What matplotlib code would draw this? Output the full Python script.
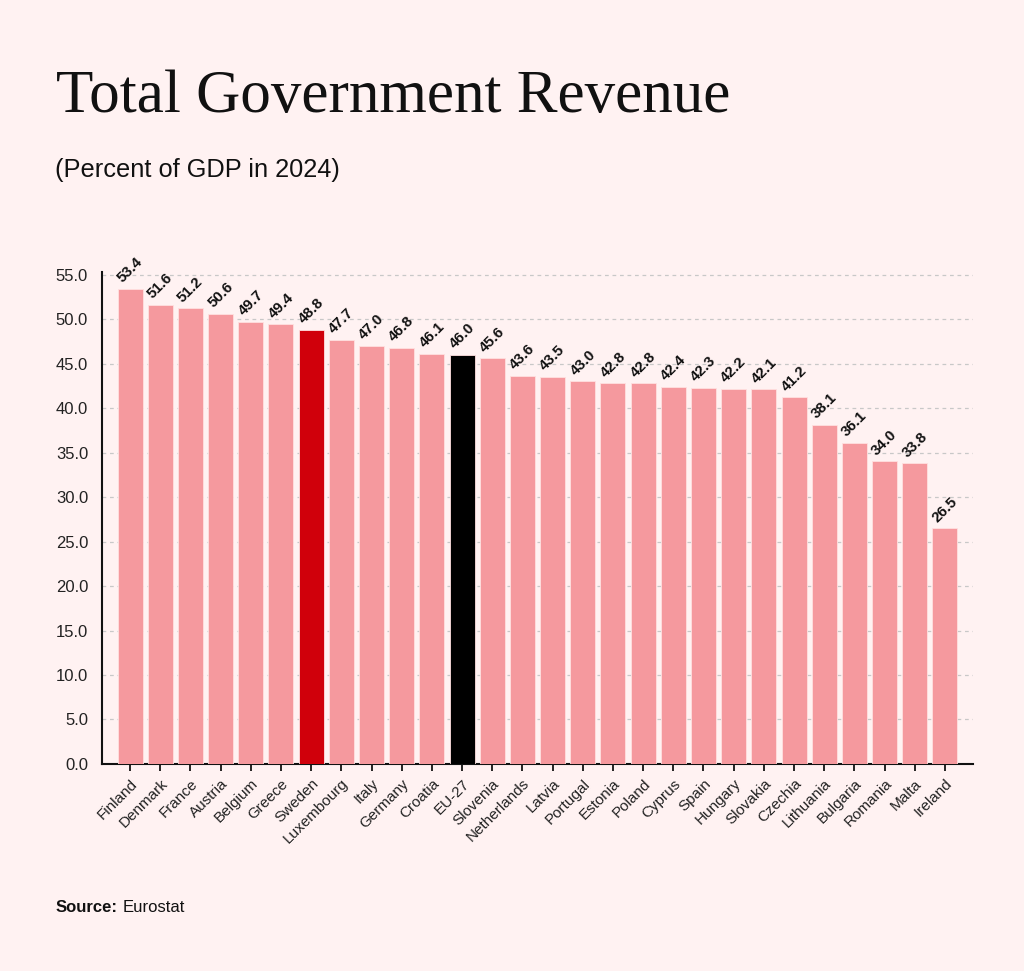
import matplotlib
matplotlib.use("Agg")
import matplotlib.pyplot as plt

# data
countries = ["Finland", "Denmark", "France", "Austria", "Belgium", "Greece", "Sweden",
             "Luxembourg", "Italy", "Germany", "Croatia", "EU-27", "Slovenia", "Netherlands",
             "Latvia", "Portugal", "Estonia", "Poland", "Cyprus", "Spain", "Hungary",
             "Slovakia", "Czechia", "Lithuania", "Bulgaria", "Romania", "Malta", "Ireland"]
revenue = [53.4, 51.6, 51.2, 50.6, 49.7, 49.4, 48.8, 47.7, 47.0, 46.8, 46.1, 46.0, 45.6, 43.6,
           43.5, 43.0, 42.8, 42.8, 42.4, 42.3, 42.2, 42.1, 41.2, 38.1, 36.1, 34.0, 33.8, 26.5]
yticks = [0, 5, 10, 15, 20, 25, 30, 35, 40, 45, 50, 55]

bg = "#fff2f2"
pink = "#f5999e"
highlight = {"Sweden": "#d0000b", "EU-27": "#000000"}

plt.rcParams["font.family"] = ["Liberation Sans", "DejaVu Sans"]

fig = plt.figure(figsize=(10.24, 9.71), dpi=100, facecolor=bg)
ax = fig.add_axes([0.0996, 0.2132, 0.8506, 0.5067], facecolor=bg)

colors = [highlight.get(c, pink) for c in countries]
x = list(range(len(countries)))
bars = ax.bar(x, revenue, width=0.83, color=colors, edgecolor="#ffe0e0", linewidth=0.6, zorder=3)

for xi, v in zip(x, revenue):
    ax.text(xi, v + 0.4, f"{v:.1f}", rotation=45, ha="center", va="bottom",
            fontsize=10.8, fontweight="bold", color="#111111", zorder=4)

ax.set_xlim(-0.93, 27.93)
ax.set_ylim(0, 55.3)
ax.set_yticks(yticks)
ax.set_yticklabels([f"{t:.1f}" for t in yticks], fontsize=12, color="#222222")
ax.set_xticks(x)
ax.set_xticklabels(countries, rotation=45, ha="right", rotation_mode="anchor",
                   fontsize=11, color="#222222")
ax.tick_params(axis="y", length=0, pad=10)
ax.tick_params(axis="x", length=5, width=1.2, pad=4)
ax.grid(axis="y", linestyle=(0, (3, 3)), color="#c8c8c8", linewidth=0.9, zorder=0)

for side in ["top", "right"]:
    ax.spines[side].set_visible(False)
for side in ["left", "bottom"]:
    ax.spines[side].set_linewidth(1.5)
    ax.spines[side].set_color("#111111")

fig.text(0.055, 0.8847, "Total Government Revenue", family=["Liberation Serif", "DejaVu Serif"],
         fontsize=44, color="#111111", va="baseline")
fig.text(0.054, 0.818, "(Percent of GDP in 2024)", fontsize=18.3, color="#111111", va="baseline")

# source line: bold label followed by plain text
src = fig.text(0.054, 0.061, "Source:", fontsize=12, fontweight="bold", color="#111111", va="baseline")
renderer = fig.canvas.get_renderer()
bb = src.get_window_extent(renderer=renderer)
x_after = (bb.x1 + 5) / fig.bbox.width
fig.text(x_after, 0.061, "Eurostat", fontsize=12, color="#111111", va="baseline")

fig.savefig("out.png", dpi=100, facecolor=bg)
